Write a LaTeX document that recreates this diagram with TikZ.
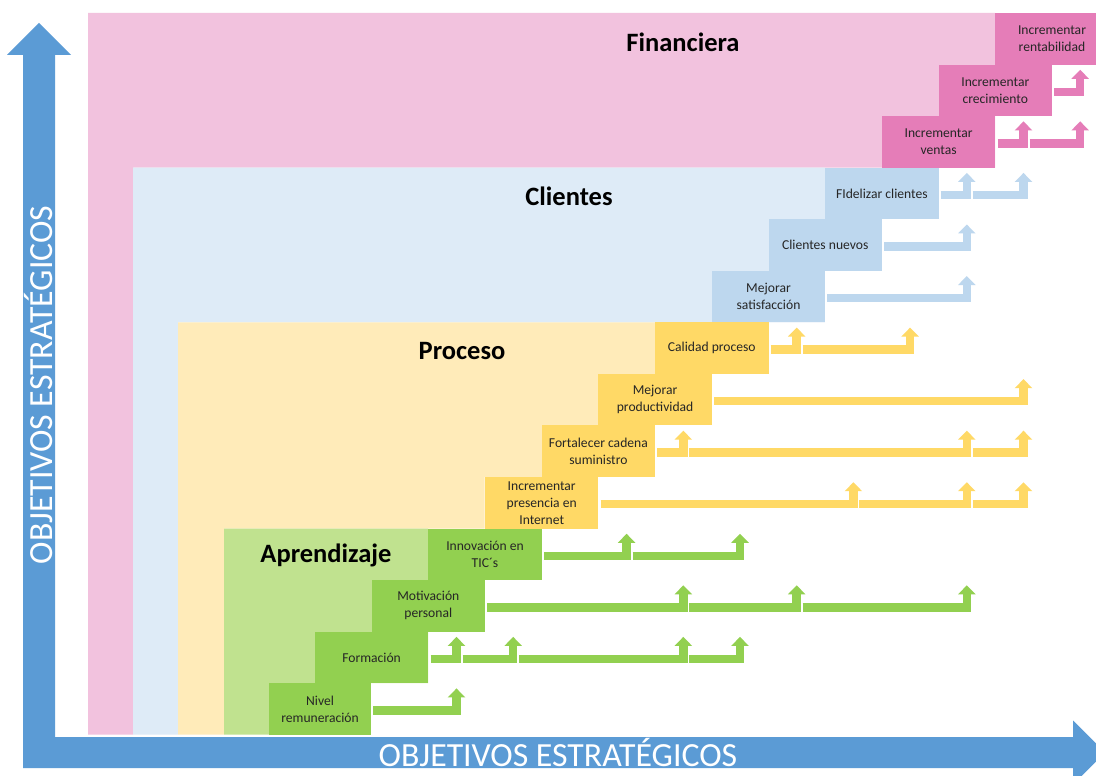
\documentclass[tikz,border=0pt]{standalone}
\usepackage{fontspec}
\setmainfont{Carlito}
\usetikzlibrary{arrows.meta}
\definecolor{rosaclaro}{RGB}{242,194,222}
\definecolor{rosa}{RGB}{229,125,184}
\definecolor{azulclaro}{RGB}{222,235,247}
\definecolor{azul}{RGB}{189,215,238}
\definecolor{amarilloclaro}{RGB}{255,235,185}
\definecolor{amarillo}{RGB}{255,217,102}
\definecolor{verdeclaro}{RGB}{192,226,143}
\definecolor{verde}{RGB}{146,208,80}
\definecolor{eje}{RGB}{91,155,213}
\tikzset{
  caja/.style={minimum width=113.4pt, minimum height=51.55pt, inner sep=0pt, align=center,
    text=black!85, font=\fontsize{13.6}{17}\selectfont},
  titulo/.style={font=\fontsize{26.5}{30}\selectfont\bfseries},
  ejetexto/.style={text=white, font=\fontsize{33.8}{38}\selectfont},
  rama/.style={line width=8.5pt, -{Triangle[width=17pt,length=9pt]}}
}
\begin{document}
\begin{tikzpicture}[x=1pt,y=-1pt]
\useasboundingbox (0,0) rectangle (1096,776);
\clip (0,0) rectangle (1096,776);
\fill [white] (0,0) rectangle (1096,776);
% ejes
\fill [eje] (23,768) -- (23,55) -- (7,55) -- (39,23) -- (71,55) -- (55,55) -- (55,737)
  -- (1073,737) -- (1073,720.5) -- (1105,752.5) -- (1073,784.5) -- (1073,768) -- cycle;
\node [ejetexto] (ejex) at (558,752.5) {OBJETIVOS ESTRATÉGICOS};
\node [ejetexto, rotate=90] (ejey) at (39,385) {OBJETIVOS ESTRATÉGICOS};
% perspectivas (escalera)
\fill [rosaclaro] (88,734.7) |- (995,13) |- (133,167.65) -- (133,734.7) -- cycle;
\fill [azulclaro] (133,734.7) |- (824.9,167.65) |- (178,322.3) -- (178,734.7) -- cycle;
\fill [amarilloclaro] (178,734.7) |- (654.8,322.3) |- (484.7,476.95) |- (224,528.5) -- (224,734.7) -- cycle;
\fill [verdeclaro] (224,734.7) |- (428,528.5) |- (269,683.15) -- (269,734.7) -- cycle;
\node [titulo] (financiera) at (683,42) {Financiera};
\node [titulo] (clientes) at (569,196) {Clientes};
\node [titulo] (proceso) at (462,351) {Proceso};
\node [titulo] (aprendizaje) at (326,555) {Aprendizaje};
% objetivos
\foreach \nombre/\col/\texto [count=\r from 0] in {
  rentab/rosa/{Incrementar\\rentabilidad},
  crecim/rosa/{Incrementar\\crecimiento},
  ventas/rosa/{Incrementar\\ventas},
  fideliz/azul/{FIdelizar clientes},
  nuevos/azul/{Clientes nuevos},
  satisf/azul/{Mejorar\\satisfacción},
  calidad/amarillo/{Calidad proceso},
  product/amarillo/{Mejorar\\productividad},
  cadena/amarillo/{Fortalecer cadena\\suministro},
  internet/amarillo/{Incrementar\\presencia en\\Internet},
  tics/verde/{Innovación en\\TIC´s},
  motiv/verde/{Motivación\\personal},
  formac/verde/{Formación}}
  \node [caja, fill=\col] (\nombre) at ({1052-56.7*\r},{38.775+51.55*\r}) {\texto};
\node [caja, fill=verde, minimum width=102pt] (remun) at (320,708.925) {Nivel\\remuneración};
% flechas hacia arriba
\foreach \r/\nodo/\col/\cols in {1/crecim/rosa/{11}, 2/ventas/rosa/{10,11},
  3/fideliz/azul/{9,10}, 4/nuevos/azul/{9}, 5/satisf/azul/{9},
  6/calidad/amarillo/{6,8}, 7/product/amarillo/{10}, 8/cadena/amarillo/{4,9,10},
  9/internet/amarillo/{7,9,10}, 10/tics/verde/{3,5}, 11/motiv/verde/{4,6,9},
  12/formac/verde/{0,1,4,5}, 13/remun/verde/{0}} {
  \pgfmathsetmacro\yc{40.275+51.55*\r}
  \foreach \c [remember=\c as \p (initially -1)] in \cols {
    \pgfmathsetmacro\xf{461+56.7*\c-4.5}
    \ifnum\p<0
      \coordinate (ini) at ([xshift=2pt,yshift=-1.5pt]\nodo.east);
    \else
      \coordinate (ini) at ({461+56.7*\p+1.5},\yc);
    \fi
    \draw [rama, \col] (ini) -| (\xf,\yc-22);
  }
}
\end{tikzpicture}
\end{document}
